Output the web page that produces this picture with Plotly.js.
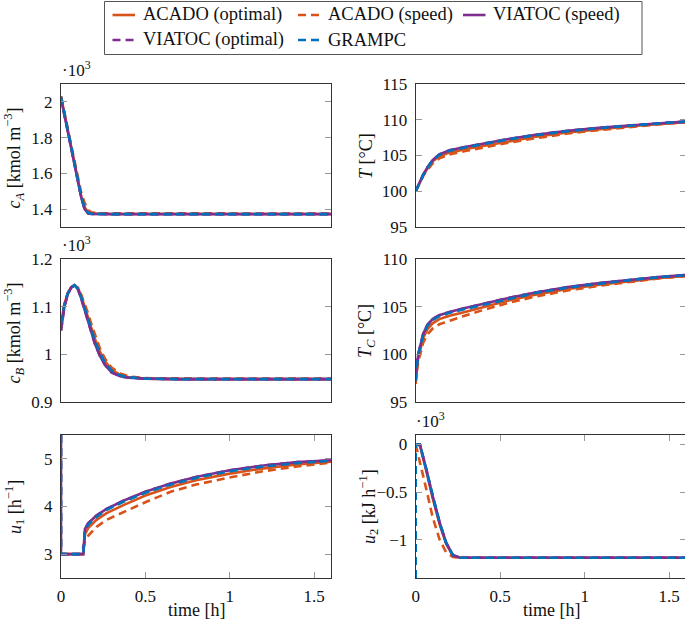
<!DOCTYPE html>
<html><head><meta charset="utf-8">
<script src="https://cdn.plot.ly/plotly-3.0.1.min.js"></script>
<style>html,body{margin:0;padding:0;overflow:hidden;background:#fff}#plot{width:690px;height:621px}</style>
</head><body><div id="plot"></div>
<script>
// ---- series meta ----
const seriesNames = ['ACADO (optimal)', 'ACADO (speed)', 'VIATOC (speed)', 'VIATOC (optimal)', 'GRAMPC'];
const seriesColors = ['#D95319', '#D95319', '#7E2F8E', '#7E2F8E', '#0072BD'];
const seriesDash = ['solid', '8px,5px', 'solid', '8px,5px', '8px,5px'];

// ---- c_A (x10^3 kmol m^-3) ----
const tCA = [0, 0.03, 0.06, 0.09, 0.12, 0.14, 0.16, 0.18, 0.22, 0.3, 0.5, 0.8, 1.2, 1.6];
const cA_acadoOpt   = [2.03, 1.89, 1.75, 1.61, 1.47, 1.41, 1.383, 1.375, 1.373, 1.373, 1.373, 1.373, 1.373, 1.373];
const cA_acadoSpeed = [2.03, 1.895, 1.76, 1.625, 1.49, 1.435, 1.395, 1.382, 1.377, 1.377, 1.377, 1.376, 1.376, 1.375];
const cA_viatocSpeed = [2.02, 1.885, 1.745, 1.605, 1.465, 1.40, 1.377, 1.373, 1.372, 1.372, 1.372, 1.372, 1.372, 1.372];
const cA_viatocOpt  = [2.02, 1.885, 1.745, 1.605, 1.465, 1.40, 1.377, 1.373, 1.372, 1.372, 1.372, 1.372, 1.372, 1.372];
const cA_grampc     = [2.03, 1.89, 1.75, 1.61, 1.47, 1.405, 1.38, 1.374, 1.372, 1.372, 1.372, 1.372, 1.372, 1.372];

// ---- c_B (x10^3 kmol m^-3) ----
const tCB = [0, 0.02, 0.04, 0.06, 0.08, 0.1, 0.12, 0.14, 0.16, 0.18, 0.2, 0.23, 0.26, 0.3, 0.35, 0.4, 0.5, 0.7, 1.0, 1.6];
const cB_acadoOpt   = [1.065, 1.105, 1.128, 1.141, 1.145, 1.139, 1.122, 1.1, 1.076, 1.053, 1.033, 1.006, 0.986, 0.968, 0.957, 0.952, 0.949, 0.948, 0.948, 0.948];
const cB_acadoSpeed = [1.065, 1.105, 1.128, 1.141, 1.145, 1.14, 1.125, 1.107, 1.086, 1.063, 1.041, 1.013, 0.991, 0.972, 0.96, 0.954, 0.95, 0.949, 0.949, 0.949];
const cB_viatocSpeed = [1.05, 1.1, 1.126, 1.14, 1.145, 1.137, 1.117, 1.093, 1.067, 1.044, 1.023, 0.997, 0.978, 0.962, 0.954, 0.951, 0.949, 0.948, 0.948, 0.948];
const cB_viatocOpt  = [1.05, 1.1, 1.126, 1.14, 1.145, 1.137, 1.117, 1.093, 1.067, 1.044, 1.023, 0.997, 0.978, 0.962, 0.954, 0.951, 0.949, 0.948, 0.948, 0.948];
const cB_grampc     = [1.065, 1.105, 1.128, 1.141, 1.145, 1.138, 1.12, 1.098, 1.073, 1.05, 1.03, 1.003, 0.983, 0.966, 0.956, 0.952, 0.949, 0.948, 0.948, 0.948];

// ---- T (degC) ----
const tT = [0, 0.02, 0.045, 0.07, 0.1, 0.14, 0.2, 0.3, 0.4, 0.55, 0.7, 0.9, 1.1, 1.3, 1.45, 1.6];
const T_acadoOpt   = [100, 101.1, 102.25, 103.2, 104.15, 104.9, 105.4, 105.9, 106.35, 107.03, 107.6, 108.23, 108.71, 109.15, 109.42, 109.66];
const T_acadoSpeed = [100, 101.05, 102.15, 103.0, 103.9, 104.6, 105.15, 105.65, 106.12, 106.78, 107.38, 108.07, 108.6, 109.08, 109.38, 109.64];
const T_viatocSpeed = [100, 101.1, 102.35, 103.35, 104.35, 105.15, 105.72, 106.22, 106.68, 107.32, 107.87, 108.46, 108.9, 109.28, 109.52, 109.74];
const T_viatocOpt  = [100, 101.1, 102.35, 103.35, 104.35, 105.15, 105.72, 106.22, 106.68, 107.32, 107.87, 108.46, 108.9, 109.28, 109.52, 109.74];
const T_grampc     = [100, 101.1, 102.3, 103.3, 104.3, 105.1, 105.65, 106.15, 106.6, 107.25, 107.8, 108.4, 108.85, 109.25, 109.5, 109.72];

// ---- T_C (degC) ----
const tTC = [0, 0.005, 0.016, 0.03, 0.045, 0.07, 0.1, 0.14, 0.2, 0.28, 0.4, 0.55, 0.7, 0.9, 1.1, 1.3, 1.45, 1.6];
const TC_acadoOpt   = [97.1, 98.3, 99.7, 100.85, 101.75, 102.65, 103.25, 103.7, 104.05, 104.4, 104.95, 105.65, 106.22, 106.85, 107.33, 107.75, 108.02, 108.24];
const TC_acadoSpeed = [96.9, 98.0, 99.3, 100.4, 101.25, 102.1, 102.7, 103.15, 103.55, 104.0, 104.65, 105.4, 106.02, 106.7, 107.23, 107.69, 107.98, 108.2];
const TC_viatocSpeed = [97.4, 98.6, 100.1, 101.3, 102.2, 103.1, 103.7, 104.1, 104.45, 104.8, 105.3, 105.92, 106.46, 107.05, 107.5, 107.88, 108.12, 108.32];
const TC_viatocOpt  = [97.4, 98.6, 100.1, 101.3, 102.2, 103.1, 103.7, 104.1, 104.45, 104.8, 105.3, 105.92, 106.46, 107.05, 107.5, 107.88, 108.12, 108.32];
const TC_grampc     = [97.2, 98.5, 100.0, 101.2, 102.1, 103.0, 103.6, 104.0, 104.35, 104.7, 105.2, 105.85, 106.4, 107.0, 107.45, 107.85, 108.1, 108.3];

// ---- u_1 (h^-1) ----
const tU1 = [0, 0, 0.12, 0.132, 0.142, 0.162, 0.21, 0.27, 0.37, 0.5, 0.65, 0.8, 1.0, 1.2, 1.4, 1.6];
const u1_acadoOpt   = [3, 3, 3, 3, 3.42, 3.55, 3.72, 3.86, 4.03, 4.23, 4.41, 4.55, 4.69, 4.8, 4.88, 4.94];
const u1_acadoSpeed = [3, 3, 3, 3.15, 3.26, 3.39, 3.57, 3.72, 3.88, 4.09, 4.31, 4.46, 4.61, 4.74, 4.84, 4.92];
const u1_viatocSpeed = [5.5, 3, 3, 3, 3.53, 3.65, 3.81, 3.95, 4.12, 4.31, 4.48, 4.62, 4.76, 4.86, 4.93, 4.97];
const u1_viatocOpt  = [5.5, 3, 3, 3, 3.53, 3.65, 3.81, 3.95, 4.12, 4.31, 4.48, 4.62, 4.76, 4.86, 4.93, 4.97];
const u1_grampc     = [5.5, 3, 3, 3, 3.51, 3.62, 3.78, 3.93, 4.1, 4.29, 4.46, 4.6, 4.74, 4.84, 4.91, 4.96];

// ---- u_2 (x10^3 kJ h^-1) ----
const tU2 = [0, 0, 0.025, 0.063, 0.1, 0.142, 0.18, 0.22, 0.26, 0.3, 0.5, 1.0, 1.6];
const u2_acadoOpt   = [0, 0, -0.01, -0.28, -0.56, -0.84, -1.04, -1.165, -1.186, -1.188, -1.188, -1.188, -1.188];
const u2_acadoSpeed = [0, 0, -0.18, -0.47, -0.76, -1.0, -1.13, -1.18, -1.188, -1.188, -1.188, -1.188, -1.188];
const u2_viatocSpeed = [0, 0, 0, -0.26, -0.54, -0.82, -1.03, -1.16, -1.185, -1.188, -1.188, -1.188, -1.188];
const u2_viatocOpt  = [0, 0, 0, -0.26, -0.54, -0.82, -1.03, -1.16, -1.185, -1.188, -1.188, -1.188, -1.188];
const u2_grampc     = [-1.4, 0, 0, -0.263, -0.54, -0.82, -1.03, -1.16, -1.185, -1.188, -1.188, -1.188, -1.188];

// ---- tick labels ----
const timeTicks = [0, 0.5, 1, 1.5];
const timeTickText = ['0', '0.5', '1', '1.5'];
const cATicks = [1.4, 1.6, 1.8, 2];
const cATickText = ['1.4', '1.6', '1.8', '2'];
const cBTicks = [0.9, 1, 1.1, 1.2];
const cBTickText = ['0.9', '1', '1.1', '1.2'];
const TTicks = [95, 100, 105, 110, 115];
const TCTicks = [95, 100, 105, 110];
const u1Ticks = [3, 4, 5];
const u2Ticks = [-1, -0.5, 0];
const u2TickText = ['\u22121', '\u22120.5', '0'];

// ---- layout helpers (pixels -> paper) ----
const W = 690, H = 621;
const px = v => v / W;
const py = v => 1 - v / H;
const FONT = '"Liberation Serif", "Times New Roman", "DejaVu Serif", serif';

const colL = [px(61), px(331)];
const colR = [px(415.7), px(686)];
const row1 = [py(227), py(84)];
const row2 = [py(402), py(259)];
const row3 = [py(578), py(435)];

const panels = [
  {ax: '', t: tCA, s: [cA_acadoOpt, cA_acadoSpeed, cA_viatocSpeed, cA_viatocOpt, cA_grampc]},
  {ax: '2', t: tT, s: [T_acadoOpt, T_acadoSpeed, T_viatocSpeed, T_viatocOpt, T_grampc]},
  {ax: '3', t: tCB, s: [cB_acadoOpt, cB_acadoSpeed, cB_viatocSpeed, cB_viatocOpt, cB_grampc]},
  {ax: '4', t: tTC, s: [TC_acadoOpt, TC_acadoSpeed, TC_viatocSpeed, TC_viatocOpt, TC_grampc]},
  {ax: '5', t: tU1, s: [u1_acadoOpt, u1_acadoSpeed, u1_viatocSpeed, u1_viatocOpt, u1_grampc]},
  {ax: '6', t: tU2, s: [u2_acadoOpt, u2_acadoSpeed, u2_viatocSpeed, u2_viatocOpt, u2_grampc]}
];

const traces = [];
panels.forEach((p) => {
  p.s.forEach((vals, i) => {
    traces.push({
      x: p.t, y: vals, type: 'scatter', mode: 'lines',
      name: seriesNames[i], legendgroup: seriesNames[i], showlegend: false,
      xaxis: 'x' + p.ax, yaxis: 'y' + p.ax,
      line: {color: seriesColors[i], width: 2.6, dash: seriesDash[i]}
    });
  });
});

const tickFont = {family: FONT, size: 17, color: '#111'};
const base = {showline: true, linecolor: '#333', linewidth: 1, showgrid: false, zeroline: false,
  tickfont: tickFont, fixedrange: true};

function xTop(dom, anchor) {
  return Object.assign({}, base, {domain: dom, anchor: anchor, range: [0, 1.6], mirror: true,
    ticks: '', showticklabels: false});
}
function xBottom(dom, anchor) {
  return Object.assign({}, base, {domain: dom, anchor: anchor, range: [0, 1.6], mirror: 'ticks',
    ticks: 'inside', ticklen: 6, tickwidth: 1, tickcolor: '#999',
    tickmode: 'array', tickvals: timeTicks, ticktext: timeTickText, ticklabelstandoff: 3});
}
function yAx(dom, anchor, range, vals, text) {
  const o = Object.assign({}, base, {domain: dom, anchor: anchor, range: range, mirror: 'ticks',
    ticks: 'inside', ticklen: 6, tickwidth: 1, tickcolor: '#999',
    tickmode: 'array', tickvals: vals, ticklabelstandoff: 4});
  if (text) o.ticktext = text;
  return o;
}

const annFont = {family: FONT, size: 18, color: '#111'};
const annotations = [];
function yTitle(x, yc, txt) {
  annotations.push({xref: 'paper', yref: 'paper', x: px(x), y: py(yc), text: txt, textangle: -90,
    xanchor: 'center', yanchor: 'middle', showarrow: false, font: annFont});
}
yTitle(13.5, 158, '<i>c<sub>A</sub></i> [kmol m<sup>\u22123</sup>]');
yTitle(13.5, 333, '<i>c<sub>B</sub></i> [kmol m<sup>\u22123</sup>]');
yTitle(14, 507, '<i>u</i><sub>1</sub> [h<sup>\u22121</sup>]');
yTitle(366, 156, '<i>T</i> [\u00B0C]');
yTitle(366, 331, '<i>T<sub>C</sub></i> [\u00B0C]');
yTitle(368, 507, '<i>u</i><sub>2</sub> [kJ h<sup>\u22121</sup>]');

function scaleLabel(x, yb) {
  annotations.push({xref: 'paper', yref: 'paper', x: px(x), y: py(yb), text: '\u00B710<sup>3</sup>',
    xanchor: 'left', yanchor: 'bottom', showarrow: false, font: {family: FONT, size: 17, color: '#111'}});
}
scaleLabel(60, 82);
scaleLabel(60, 257);
scaleLabel(414, 433);

function xTitle(xc, yc) {
  annotations.push({xref: 'paper', yref: 'paper', x: px(xc), y: py(yc), text: 'time [h]',
    xanchor: 'center', yanchor: 'middle', showarrow: false, font: annFont});
}
xTitle(196, 610);
xTitle(551, 610);

// ---- legend (drawn box with samples) ----
const shapes = [{type: 'rect', xref: 'paper', yref: 'paper', x0: px(104.5), x1: px(642), y0: py(54.5), y1: py(1.5),
  line: {color: '#555', width: 1}, fillcolor: 'rgba(0,0,0,0)'}];
const legendPos = [
  {x: 112.5, y: 15}, {x: 298, y: 15}, {x: 463, y: 15},
  {x: 112.5, y: 40}, {x: 298, y: 40}
];
seriesNames.forEach((nm, i) => {
  const p = legendPos[i];
  shapes.push({type: 'line', xref: 'paper', yref: 'paper', x0: px(p.x), x1: px(p.x + 22.5), y0: py(p.y), y1: py(p.y),
    line: {color: seriesColors[i], width: 2.6, dash: seriesDash[i]}});
  annotations.push({xref: 'paper', yref: 'paper', x: px(p.x + 28), y: py(p.y), text: nm,
    xanchor: 'left', yanchor: 'middle', showarrow: false, font: {family: FONT, size: 18.5, color: '#111'}});
});

const layout = {
  width: W, height: H, margin: {l: 0, r: 0, t: 0, b: 0},
  paper_bgcolor: '#fff', plot_bgcolor: '#fff', showlegend: false,
  font: {family: FONT, size: 17, color: '#111'},
  xaxis: xTop(colL, 'y'), yaxis: yAx(row1, 'x', [1.3, 2.1], cATicks, cATickText),
  xaxis2: xTop(colR, 'y2'), yaxis2: yAx(row1, 'x2', [95, 115], TTicks),
  xaxis3: xTop(colL, 'y3'), yaxis3: yAx(row2, 'x3', [0.9, 1.2], cBTicks, cBTickText),
  xaxis4: xTop(colR, 'y4'), yaxis4: yAx(row2, 'x4', [95, 110], TCTicks),
  xaxis5: xBottom(colL, 'y5'), yaxis5: yAx(row3, 'x5', [2.5, 5.5], u1Ticks),
  xaxis6: xBottom(colR, 'y6'), yaxis6: yAx(row3, 'x6', [-1.4, 0.1], u2Ticks, u2TickText),
  annotations: annotations, shapes: shapes
};

Plotly.newPlot('plot', traces, layout, {displayModeBar: false});
</script></body></html>
